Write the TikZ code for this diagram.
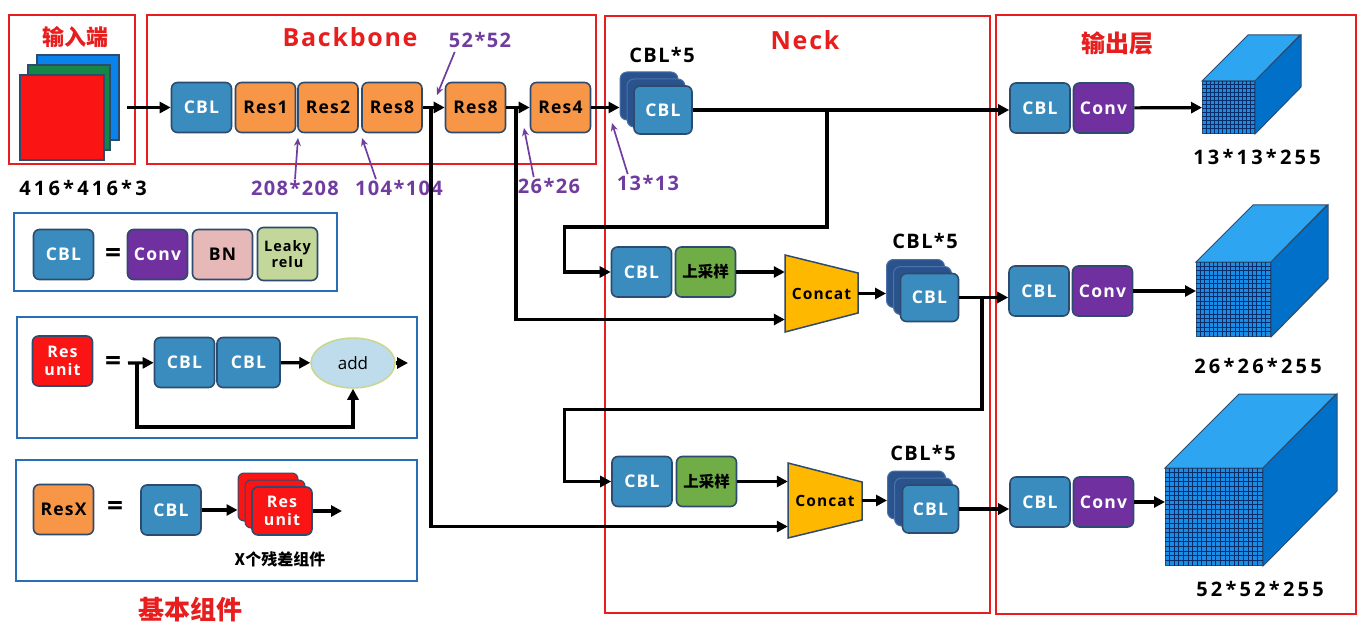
\documentclass[tikz,border=0pt]{standalone}
\usepackage{fontspec}
\setmainfont{Open Sans}
\newfontfamily\lbl{Open Sans}[LetterSpace=7]
\newfontfamily\wide{Open Sans}[LetterSpace=16]
\newfontfamily\cjk{Noto Sans CJK SC}
\usetikzlibrary{arrows.meta,calc,shapes.geometric}

\definecolor{framered}{RGB}{232,30,30}
\definecolor{legendblue}{RGB}{40,110,180}
\definecolor{boxedge}{RGB}{45,75,110}
\definecolor{cblblue}{RGB}{58,140,190}
\definecolor{resorange}{RGB}{247,150,70}
\definecolor{convpurple}{RGB}{112,48,160}
\definecolor{bnpink}{RGB}{230,184,183}
\definecolor{leakygreen}{RGB}{196,215,155}
\definecolor{upgreen}{RGB}{112,173,71}
\definecolor{catgold}{RGB}{255,184,0}
\definecolor{unitred}{RGB}{250,20,20}
\definecolor{stackblue}{RGB}{42,82,140}
\definecolor{stackedge}{RGB}{75,115,170}
\definecolor{dimpurple}{RGB}{112,60,160}
\definecolor{addfill}{RGB}{190,220,235}
\definecolor{addedge}{RGB}{200,215,140}
\definecolor{imgblue}{RGB}{10,130,235}
\definecolor{imggreen}{RGB}{20,135,70}
\definecolor{cubefront}{RGB}{25,140,230}
\definecolor{cubetop}{RGB}{45,165,240}
\definecolor{cubeside}{RGB}{0,112,200}
\definecolor{cubeline}{RGB}{10,45,105}

\begin{document}
\begin{tikzpicture}[x=1pt, y=-1pt,
  box/.style={draw=boxedge, line width=1.6pt, rounded corners=6pt, minimum width=60, minimum height=50, inner sep=0pt, align=center, font=\lbl\bfseries\fontsize{17.5}{17.5}\selectfont},
  cbl/.style={box, fill=cblblue, text=white},
  res/.style={box, fill=resorange},
  conv/.style={box, fill=convpurple, text=white},
  upsam/.style={box, fill=upgreen, font=\cjk\bfseries\fontsize{15.5}{15.5}\selectfont},
  resunit/.style={box, fill=unitred, text=white, font=\lbl\bfseries\fontsize{16}{18}\selectfont},
  stackback/.style={draw=stackedge, fill=stackblue, line width=1pt, rounded corners=7pt, minimum width=58, minimum height=48},
  unitback/.style={draw=boxedge, fill=unitred, line width=1pt, rounded corners=6pt, minimum width=60, minimum height=48},
  cattext/.style={inner sep=0pt, font=\lbl\bfseries\fontsize{15.5}{15.5}\selectfont},
  frame/.style={draw=framered, line width=2pt},
  legend/.style={draw=legendblue, line width=2pt},
  title/.style={text=framered, font=\lbl\bfseries\fontsize{25}{25}\selectfont},
  ctitle/.style={text=framered, font=\cjk\bfseries\fontsize{22}{22}\selectfont},
  dim/.style={text=dimpurple, inner sep=1pt, font=\lbl\bfseries\fontsize{20}{20}\selectfont},
  lab/.style={font=\wide\bfseries\fontsize{20}{20}\selectfont},
  eq/.style={font=\bfseries\fontsize{28}{28}\selectfont},
  arr/.style={-{Triangle[length=11pt,width=11pt]}, line width=3.2pt},
  parr/.style={-{Stealth[length=8pt,width=7pt]}, line width=1.7pt, draw=dimpurple},
  cubeface/.style={draw=boxedge, line width=1pt, inner sep=0pt},
  gridline/.style={draw=cubeline, line width=1pt}]

  % canvas
  \fill[white] (0,0) rectangle (1364,628);
  \useasboundingbox (0,0) rectangle (1364,628);

  % frames
  \draw[frame] (9,15) rectangle (135,164);
  \draw[frame] (147,15) rectangle (596,164);
  \draw[frame] (605,16) rectangle (990,613);
  \draw[frame] (996,15) rectangle (1356,614);
  \node[ctitle] (tin) at (75,37) {输入端};
  \node[title] (tbb) at (350,37) {Backbone};
  \node[title] (tneck) at (805,40) {Neck};
  \node[ctitle, font=\cjk\bfseries\fontsize{24}{24}\selectfont] (tout) at (1117,43) {输出层};

  % input image
  \draw[boxedge, fill=imgblue, line width=1.5pt] (37,55) rectangle (119,140);
  \draw[boxedge, fill=imggreen, line width=1.5pt] (28,65) rectangle (110,150);
  \node[draw=boxedge, fill=unitred, line width=1.5pt, inner sep=0pt, minimum width=84, minimum height=85] (img) at (62,117.5) {};
  \node[lab] (size0) at (83,188) {416*416*3};

  % backbone
  \node[cbl] (cbl0) at (201.5,107.5) {CBL};
  \node[res] (r1) at (265.5,107.5) {Res1};
  \node[res] (r2) at (328,107.5) {Res2};
  \node[res] (r8a) at (392,107.5) {Res8};
  \node[res] (r8b) at (475.5,107.5) {Res8};
  \node[res] (r4) at (560.5,107.5) {Res4};
  \coordinate (inr) at (127,107.5);
  \coordinate (j52) at (431,107.5);
  \coordinate (j26) at (516,107.5);
  \draw[arr] (inr) -- (cbl0);
  \draw[arr] (r8a) -- (r8b);
  \draw[arr] (r8b) -- (r4);

  % sizes
  \node[dim] (d52) at (480,40) {52*52};
  \node[dim] (d208) at (295,188) {208*208};
  \node[dim] (d104) at (399,188) {104*104};
  \node[dim] (d26) at (549,186) {26*26};
  \node[dim] (d13) at (648,183) {13*13};
  \coordinate (t52) at (437,95);
  \coordinate (t208) at (298,138);
  \coordinate (t104) at (362,138);
  \coordinate (t26) at (524,128);
  \coordinate (t13) at (612,123);
  \draw[parr] ($(d52.south west)+(7,3)$) -- (t52);
  \draw[parr] (d208.north) -- (t208);
  \draw[parr] ($(d104.north west)+(22,0)$) -- (t104);
  \draw[parr] ($(d26.north west)+(17,0)$) -- (t26);
  \draw[parr] ($(d13.north west)+(12,0)$) -- (t13);

  % neck
  \foreach \d in {14,7} \node[stackback] (s13-\d) at ($(663,110)+(-\d,-\d)$) {};
  \node[cbl, minimum width=58, minimum height=48] (s13) at (663,110) {CBL};
  \node[lab, font=\lbl\bfseries\fontsize{20}{20}\selectfont] (n13) at (662,55) {CBL*5};
  \draw[arr] (r4) -- (r4 -| s13-14.west);

  \node[cbl] (nc1) at (641.5,272) {CBL};
  \node[upsam] (up1) at (705.5,272) {上采样};
  \draw[boxedge, fill=catgold, line width=1.5pt] (785,255) -- (858,273) -- (858,313) -- (785,332) -- cycle;
  \node[cattext, minimum width=73, minimum height=77] (cat1) at (821.5,293.5) {Concat};
  \foreach \d in {14,7} \node[stackback] (s26-\d) at ($(929.5,297.5)+(-\d,-\d)$) {};
  \node[cbl, minimum width=58, minimum height=48] (s26) at (929.5,297.5) {CBL};
  \node[lab, font=\lbl\bfseries\fontsize{20}{20}\selectfont] (n26) at (925,241) {CBL*5};

  \node[cbl] (nc2) at (642,481.5) {CBL};
  \node[upsam] (up2) at (706.5,481.5) {上采样};
  \draw[boxedge, fill=catgold, line width=1.5pt] (788,463) -- (862,482) -- (862,520) -- (788,538) -- cycle;
  \node[cattext, minimum width=74, minimum height=75] (cat2) at (825,500.5) {Concat};
  \foreach \d in {14,7} \node[stackback] (s52-\d) at ($(930.5,509)+(-\d,-\d)$) {};
  \node[cbl, minimum width=56, minimum height=48] (s52) at (930.5,509) {CBL};
  \node[lab, font=\lbl\bfseries\fontsize{20}{20}\selectfont] (n52) at (923,453) {CBL*5};

  \coordinate (b1) at (827,110);
  \coordinate (b2) at (982,297.5);
  \draw[arr] (b1) -- ++(0,117) -| ($(nc1.west)+(-46,0)$) -- (nc1.west);
  \draw[arr] (j26) |- ($(cat1.west)+(0,26)$);
  \draw[arr] (up1) -- (up1 -| cat1.west);
  \draw[arr] (cat1) -- (cat1 -| s26-14.west);
  \draw[arr] (b2) -- ++(0,112) -| ($(nc2.west)+(-47,0)$) -- (nc2.west);
  \draw[arr] (j52) |- ($(cat2.west)+(0,26)$);
  \draw[arr] (up2) -- (up2 -| cat2.west);
  \draw[arr] (cat2) -- (cat2 -| s52-14.west);

  % head
  \node[cbl] (oc1) at (1040,108) {CBL};
  \node[conv] (cv1) at (1103.5,108) {Conv};
  \node[cbl] (oc2) at (1039,291) {CBL};
  \node[conv] (cv2) at (1102.5,291) {Conv};
  \node[cbl] (oc3) at (1040,502) {CBL};
  \node[conv] (cv3) at (1103.5,502) {Conv};
  \draw[arr] (s13.east) -- (s13.east -| oc1.west);
  \draw[arr] (s26.east) -- (s26.east -| oc2.west);
  \draw[arr] (s52.east) -- (s52.east -| oc3.west);

  \foreach \n/\cx/\cy/\s/\d/\k in {cube1/1228.5/107.5/52/46/12, cube2/1233.5/299.5/74/57/16, cube3/1214/517/97/74/20} {
    \node[cubeface, fill=cubefront, minimum size=\s] (\n) at (\cx,\cy) {};
    \filldraw[cubeface, fill=cubetop] (\n.north west) -- ++(\d,-\d) -- ++(\s,0) -- (\n.north east) -- cycle;
    \filldraw[cubeface, fill=cubeside] (\n.north east) -- ++(\d,-\d) -- ++(0,\s) -- (\n.south east) -- cycle;
    \pgfmathsetmacro\g{\s/(\k+1)}
    \foreach \i in {1,...,\k} {
      \draw[gridline] ($(\n.north west)+(\i*\g,0)$) -- ($(\n.south west)+(\i*\g,0)$);
      \draw[gridline] ($(\n.north west)+(0,\i*\g)$) -- ($(\n.north east)+(0,\i*\g)$);
    }
  }
  \draw[arr] (cv1) -- (cube1);
  \draw[arr] (cv2.east) -- (cv2.east -| cube2.west);
  \draw[arr] (cv3.east) -- (cv3.east -| cube3.west);
  \node[lab] (o13) at (1257,157) {13*13*255};
  \node[lab] (o26) at (1258,366) {26*26*255};
  \node[lab] (o52) at (1260,589) {52*52*255};

  % legend
  \draw[legend] (14,213) rectangle (337,291);
  \draw[legend] (17,317) rectangle (417,438);
  \draw[legend] (16,460) rectangle (417,581);

  \node[cbl] (lc) at (63.5,254.5) {CBL};
  \node[eq] (e1) at (113,255) {=};
  \node[conv] (lconv) at (157.5,254.5) {Conv};
  \node[box, fill=bnpink] (lbn) at (222.5,254.5) {BN};
  \node[box, fill=leakygreen, minimum height=53, font=\lbl\bfseries\fontsize{14.5}{15.5}\selectfont] (lrelu) at (287.5,254) {Leaky\\relu};

  \node[resunit] (lru) at (62.5,361) {Res\\unit};
  \node[eq] (e2) at (113,363) {=};
  \node[cbl] (lca) at (184.5,362.5) {CBL};
  \node[cbl, minimum width=63] (lcb) at (248.5,362.5) {CBL};
  \node[draw=addedge, fill=addfill, ellipse, line width=1.5pt, minimum width=84, minimum height=50, font=\fontsize{17}{17}\selectfont] (add) at (353,363) {add};
  \coordinate (k0) at (128,363);
  \coordinate (k1) at (137,363);
  \coordinate (k2) at (408,363);
  \draw[arr] (k0) -- (lca);
  \draw[arr] (k1) -- ++(0,64) -| (add.south);
  \draw[arr] (lcb) -- (add);
  \draw[arr] (add) -- (k2);

  \node[res] (lrx) at (63.5,509.5) {ResX};
  \node[eq] (e3) at (115,508) {=};
  \node[cbl] (lcc) at (171,510) {CBL};
  \foreach \d in {14,7} \node[unitback] (ru-\d) at ($(282,511)+(-\d,-\d)$) {};
  \node[resunit, minimum height=48] (ru) at (282,511) {Res\\unit};
  \coordinate (k3) at (342,508);
  \draw[arr] (lcc.east) -- (lcc.east -| ru-14.west);
  \draw[arr] (ru.east) -- (ru.east -| k3);
  \node[font=\cjk\bfseries\fontsize{16}{16}\selectfont] (xres) at (280,559) {X个残差组件};
  \node[ctitle, font=\cjk\bfseries\fontsize{26}{26}\selectfont] (tbase) at (190,610) {基本组件};

\end{tikzpicture}
\end{document}
